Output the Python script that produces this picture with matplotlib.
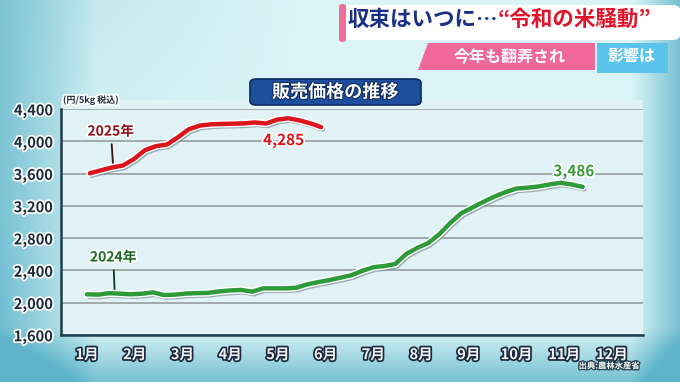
import numpy as np
import matplotlib
matplotlib.use("Agg")
import matplotlib.pyplot as plt
import matplotlib.patheffects as pe
from matplotlib.patches import FancyBboxPatch, Rectangle, Polygon

plt.rcParams['font.family'] = ['Noto Sans CJK JP', 'DejaVu Sans']

# weekly retail price (yen / 5kg, tax incl.)
price_2025 = [3604, 3640, 3675, 3700, 3780, 3890, 3940, 3960, 4050, 4150, 4195,
              4210, 4215, 4218, 4222, 4233, 4220, 4268, 4285, 4260, 4223, 4176]
price_2024 = [2104, 2100, 2118, 2112, 2104, 2112, 2128, 2095, 2100, 2114, 2118,
              2122, 2140, 2152, 2158, 2137, 2178, 2178, 2178, 2185, 2228, 2255,
              2280, 2310, 2340, 2395, 2439, 2455, 2480, 2605, 2680, 2740, 2850,
              2990, 3110, 3180, 3250, 3315, 3370, 3415, 3425, 3440, 3465, 3486,
              3465, 3435]
months = ['1月', '2月', '3月', '4月', '5月', '6月', '7月', '8月', '9月', '10月', '11月', '12月']
yticks = [1600, 2000, 2400, 2800, 3200, 3600, 4000, 4400]

# week index -> month position on the x axis
week_step = 12 / 52
x25 = 1.06 + np.arange(len(price_2025)) * week_step
x24 = 1 + np.arange(len(price_2024)) * week_step

W, H = 680, 382
fig = plt.figure(figsize=(W / 100, H / 100), dpi=100)

# background gradient (row 0 = top of the picture)
bg = fig.add_axes([0, 0, 1, 1])
gx, gy = np.meshgrid(np.linspace(0, 1, 340), np.linspace(0, 1, 191))
light = np.array([0.86, 0.96, 0.97])
dark = np.array([0.34, 0.69, 0.78])
w = (0.85 * np.clip(1 - gx / 0.14, 0, 1) ** 0.9 * (0.55 + 0.45 * gy)
     + 0.25 * np.clip(1 - gx / 0.45, 0, 1) * (1 - gy) ** 2
     + np.clip((gy - 0.86) / 0.14, 0, 1) * 0.75
     + 0.75 * np.clip((gx - 0.93) / 0.07, 0, 1))
w = np.clip(w, 0, 0.92)
img = light[None, None, :] * (1 - w[..., None]) + dark[None, None, :] * w[..., None]
bg.imshow(img, extent=[0, 1, 0, 1], aspect='auto', origin='upper', interpolation='bilinear')
bg.set_xlim(0, 1)
bg.set_ylim(0, 1)
bg.axis('off')


def fx(px):
    return px / W


def fy(py):
    return 1 - py / H


# plot panel
bg.add_patch(Rectangle((fx(61), fy(335)), fx(643) - fx(61), fy(100) - fy(335),
                       facecolor='#e1f3f6', edgecolor='none', zorder=1))

ax = fig.add_axes([fx(61), fy(335), fx(643) - fx(61), fy(109) - fy(335)])
ax.patch.set_alpha(0)
ax.set_xlim(0.455, 12.65)
ax.set_ylim(1600, 4400)
ax.set_yticks(yticks)
ax.set_yticklabels([f'{v:,}' for v in yticks])
ax.set_xticks(range(1, 13))
ax.set_xticklabels(months)
ax.tick_params(length=0)
ax.tick_params(axis='y', pad=6, labelsize=10.5)
ax.tick_params(axis='x', pad=8, labelsize=10.5)
for lab in ax.get_yticklabels():
    lab.set_fontweight('bold')
    lab.set_color('#1b2a3c')
    lab.set_path_effects([pe.withStroke(linewidth=2.5, foreground='white')])
for lab in ax.get_xticklabels():
    lab.set_fontweight('bold')
    lab.set_color('#f4f4f4')
    lab.set_path_effects([pe.withStroke(linewidth=2.5, foreground='#1c2a40')])
ax.grid(axis='y', color='#a3aaae', linewidth=1.4)
ax.set_axisbelow(True)
for s in ['top', 'right']:
    ax.spines[s].set_visible(False)
ax.spines['left'].set_color('#1f3d4a')
ax.spines['bottom'].set_color('#1f3d4a')
ax.spines['left'].set_linewidth(1.8)
ax.spines['bottom'].set_linewidth(1.8)

line_fx = [pe.SimpleLineShadow(offset=(1.2, -1.8), shadow_color='#6d7f86', alpha=0.6),
           pe.Stroke(linewidth=5.2, foreground='white'), pe.Normal()]
ax.plot(x24, price_2024, color='#2f9a3a', linewidth=3.2, solid_capstyle='round',
        path_effects=line_fx, zorder=4)
ax.plot(x25, price_2025, color='#dc141c', linewidth=3.2, solid_capstyle='round',
        path_effects=line_fx, zorder=4)

# annotations
txt_fx = [pe.withStroke(linewidth=2.5, foreground='white')]
ax.annotate('2025年', xy=(1.55, price_2025[2] - 15), xytext=(1.5, 4120),
            ha='center', va='center', fontsize=10, color='#8a1218', fontweight='bold',
            arrowprops=dict(arrowstyle='-', color='#3a1012', lw=1.3, shrinkB=0),
            path_effects=txt_fx)
ax.annotate('2024年', xy=(1.58, price_2024[2] + 10), xytext=(1.55, 2560),
            ha='center', va='center', fontsize=10, color='#1c6a24', fontweight='bold',
            arrowprops=dict(arrowstyle='-', color='#0f3a14', lw=1.3, shrinkB=0),
            path_effects=txt_fx)
ax.text(5.12, 4010, '4,285', ha='center', va='center', fontsize=11, fontweight='bold',
        color='#dc141c', path_effects=txt_fx)
ax.text(11.2, 3625, '3,486', ha='center', va='center', fontsize=11, fontweight='bold',
        color='#3a9a3a', path_effects=txt_fx)

fig.text(fx(63), fy(100), '(円/5kg 税込)', ha='left', va='center', fontsize=6.5,
         fontweight='bold', color='#1b2a3c', path_effects=txt_fx)
fig.text(fx(640), fy(366), '出典:農林水産省', ha='right', va='center', fontsize=6,
         fontweight='bold', color='white',
         path_effects=[pe.withStroke(linewidth=1.8, foreground='#24404c')])

# chart title box
bg.add_patch(FancyBboxPatch((fx(250), fy(105)), fx(421) - fx(250), fy(79) - fy(105),
                            boxstyle='round,pad=0,rounding_size=0.01',
                            facecolor='#1d4f9e', edgecolor='#0d2a5c', linewidth=1.2, zorder=5))
fig.text(fx(335), fy(92), '販売価格の推移', ha='center', va='center', fontsize=13,
         fontweight='bold', color='white', zorder=6,
         path_effects=[pe.withStroke(linewidth=1.5, foreground='#0d2a5c')])

# header banners
bg.add_patch(FancyBboxPatch((fx(342), fy(40)), fx(680) - fx(342), fy(5) - fy(40),
                            boxstyle='round,pad=0,rounding_size=0.012',
                            facecolor='white', edgecolor='none', zorder=5))
bg.add_patch(FancyBboxPatch((fx(339), fy(42)), fx(346) - fx(339), fy(4) - fy(42),
                            boxstyle='round,pad=0,rounding_size=0.006',
                            facecolor='#f06c9a', edgecolor='none', zorder=6))
t1 = fig.text(fx(348), fy(19), '収束はいつに…', ha='left', va='center', fontsize=15.5,
              fontweight='bold', color='#1a2f86', zorder=7)
fig.canvas.draw()
ext = t1.get_window_extent(fig.canvas.get_renderer())
fig.text(ext.x1 / W - 0.002, fy(19), '“令和の米騒動”', ha='left', va='center', fontsize=15.5,
         fontweight='bold', color='#e0142a', zorder=7)

pink = Polygon([(fx(428), fy(43)), (fx(595), fy(43)), (fx(595), fy(70)), (fx(418), fy(70))],
               closed=True, facecolor='#f0699a', edgecolor='none', zorder=5)
bg.add_patch(pink)
bg.add_patch(Rectangle((fx(597), fy(73)), fx(668) - fx(597), fy(43) - fy(73),
                       facecolor='#5bc4ec', edgecolor='none', zorder=5))
fig.text(fx(510), fy(56), '今年も翻弄され', ha='center', va='center', fontsize=11.5,
         fontweight='bold', color='white', zorder=7)
fig.text(fx(632), fy(56), '影響は', ha='center', va='center', fontsize=11.5,
         fontweight='bold', color='white', zorder=7)

fig.savefig('out.png', dpi=100)
